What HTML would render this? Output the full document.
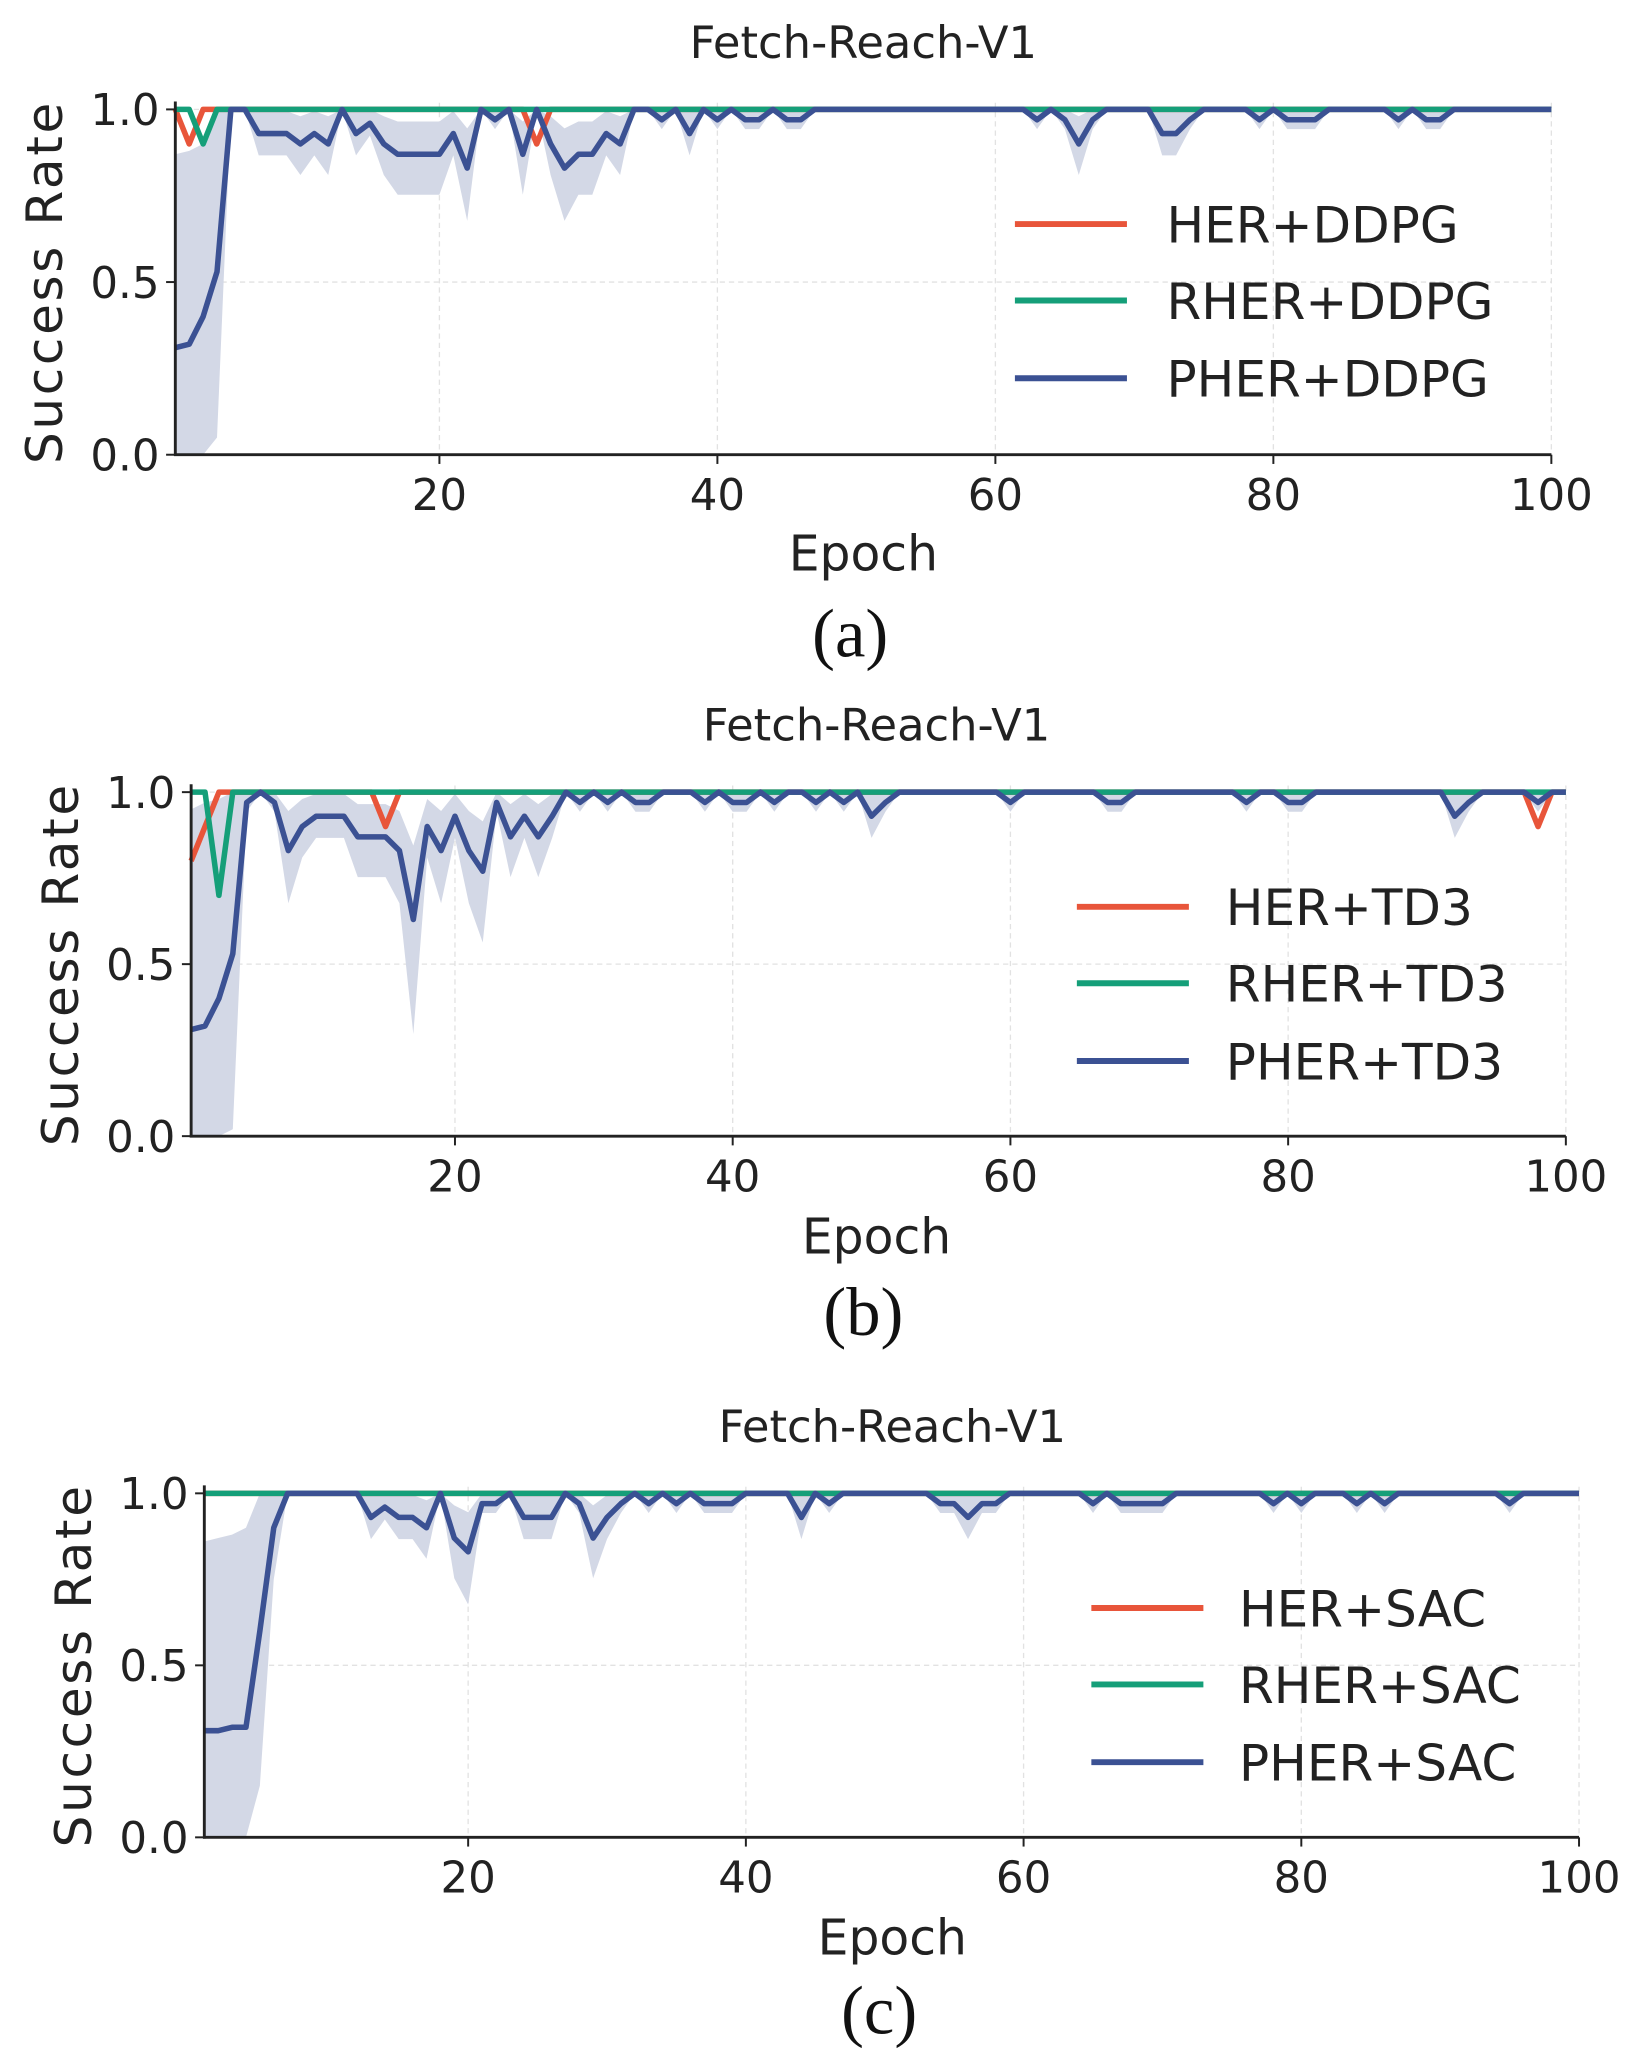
<!DOCTYPE html>
<html><head><meta charset="utf-8"><style>
html,body{margin:0;padding:0;background:#fff;}
svg{display:block;}
</style></head><body>
<svg id="s" width="1641" height="2068" viewBox="0 0 1245 1569" xmlns="http://www.w3.org/2000/svg" font-family="'DejaVu Sans','Liberation Sans',sans-serif"></svg>
<script>
const S=document.getElementById('s');
let out='';
function ones(){return new Array(101).fill(1);}
function set(a,o){for(const k in o)a[+k]=o[k];return a;}
const panels=[
 {x0:133,x1:1177,y1:83,y0:345,title:'Fetch-Reach-V1',tx:655,ty:32,ex:655,ey:420,lab:'(a)',ly:480,
  lg:{x:770,y:[170,228,287],t:885},names:['HER+DDPG','RHER+DDPG','PHER+DDPG'],
  red:set(ones(),{2:0.9,3:1,26:1,27:0.9}),green:set(ones(),{3:0.9}),
  blue:set(ones(),{1:.31,2:.32,3:.4,4:.53,7:.93,8:.93,9:.93,10:.9,11:.93,12:.9,14:.93,15:.96,16:.9,17:.87,18:.87,19:.87,20:.87,21:.93,22:.83,24:.97,26:.87,28:.9,29:.83,30:.87,31:.87,32:.93,33:.9,36:.97,38:.93,40:.97,42:.97,43:.97,45:.97,46:.97,63:.97,65:.97,66:.9,67:.97,72:.93,73:.93,74:.97,79:.97,81:.97,82:.97,83:.97,89:.97,91:.97,92:.97}),
  early:{1:[0,.87],2:[0,.88],3:[0,.9],4:[0.05,1]}},
 {x0:145,x1:1188,y1:601,y0:862,title:'Fetch-Reach-V1',tx:665,ty:550,ex:665,ey:938,lab:'(b)',ly:995,
  lg:{x:817,y:[688,746,805],t:930},names:['HER+TD3','RHER+TD3','PHER+TD3'],
  red:set(ones(),{1:.8,2:.9,15:.9,98:.9}),green:set(ones(),{3:.7}),
  blue:set(ones(),{1:.31,2:.32,3:.4,4:.53,5:.97,7:.97,8:.83,9:.9,10:.93,11:.93,12:.93,13:.87,14:.87,15:.87,16:.83,17:.63,18:.9,19:.83,20:.93,21:.83,22:.77,23:.97,24:.87,25:.93,26:.87,27:.93,29:.97,31:.97,33:.97,34:.97,38:.97,40:.97,41:.97,43:.97,46:.97,48:.97,50:.93,51:.97,60:.97,67:.97,68:.97,77:.97,80:.97,81:.97,92:.93,93:.97,98:.97}),
  early:{1:[0,.95],2:[0,.97],3:[0,.98],4:[0.02,1]}},
 {x0:155,x1:1198,y1:1133,y0:1394,title:'Fetch-Reach-V1',tx:677,ty:1082,ex:677,ey:1470,lab:'(c)',ly:1525,
  lg:{x:828,y:[1220,1278,1337],t:940},names:['HER+SAC','RHER+SAC','PHER+SAC'],
  red:ones(),green:ones(),
  blue:set(ones(),{1:.31,2:.31,3:.32,4:.32,5:.6,6:.9,13:.93,14:.96,15:.93,16:.93,17:.9,19:.87,20:.83,21:.97,22:.97,24:.93,25:.93,26:.93,28:.97,29:.87,30:.93,31:.97,33:.97,35:.97,37:.97,38:.97,39:.97,44:.93,46:.97,54:.97,55:.97,56:.93,57:.97,58:.97,65:.97,67:.97,68:.97,69:.97,70:.97,78:.97,80:.97,84:.97,86:.97,95:.97}),
  early:{1:[0,.86],2:[0,.87],3:[0,.88],4:[0,.9],5:[0.15,1],6:[.75,1]}}
];
for(const p of panels){
 const X=e=>p.x0+(e-1)*(p.x1-p.x0)/99, Y=v=>p.y0+(p.y1-p.y0)*v;
 for(const t of [20,40,60,80,100]) out+=`<line x1="${X(t)}" y1="${p.y1-5}" x2="${X(t)}" y2="${p.y0}" stroke="#e2e2e2" stroke-width="1" stroke-dasharray="4,3"/>`;
 for(const v of [0.5,1]) out+=`<line x1="${p.x0}" y1="${Y(v)}" x2="${p.x1}" y2="${Y(v)}" stroke="#e2e2e2" stroke-width="1" stroke-dasharray="4,3"/>`;
 let up=[],lo=[];
 for(let e=1;e<=100;e++){let v=p.blue[e],u,l;
  if(p.early[e]){[l,u]=p.early[e];}else{const d=(1-v);u=Math.min(1,v+d*0.5+(v<1?0.03:0));l=Math.max(0,v-d*0.9);}
  up.push(X(e)+','+Y(u));lo.push(X(e)+','+Y(l));}
 out+=`<polygon points="${up.join(' ')} ${lo.reverse().join(' ')}" fill="#d3d8e6"/>`;
 const line=(arr,c)=>{let pts=[];for(let e=1;e<=100;e++)pts.push(X(e)+','+Y(arr[e]));out+=`<polyline points="${pts.join(' ')}" fill="none" stroke="${c}" stroke-width="4.2" stroke-linejoin="round"/>`;};
 line(p.red,'#e8553a');line(p.green,'#159f79');line(p.blue,'#3b5193');
 out+=`<line x1="${p.x0}" y1="${p.y1-6}" x2="${p.x0}" y2="${p.y0+1}" stroke="#222" stroke-width="2.2"/>`;
 out+=`<line x1="${p.x0-1}" y1="${p.y0}" x2="${p.x1}" y2="${p.y0}" stroke="#222" stroke-width="2.2"/>`;
 for(const t of [20,40,60,80,100]){out+=`<line x1="${X(t)}" y1="${p.y0}" x2="${X(t)}" y2="${p.y0+7}" stroke="#222" stroke-width="1.5"/>`;
  out+=`<text x="${X(t)}" y="${p.y0+42}" font-size="33" text-anchor="middle" fill="#222">${t}</text>`;}
 for(const v of [0,0.5,1]){out+=`<line x1="${p.x0-7}" y1="${Y(v)}" x2="${p.x0}" y2="${Y(v)}" stroke="#222" stroke-width="1.5"/>`;
  out+=`<text x="${p.x0-12}" y="${Y(v)+12}" font-size="33" text-anchor="end" fill="#222">${v.toFixed(1)}</text>`;}
 out+=`<text x="${p.tx}" y="${p.ty+12}" font-size="34" text-anchor="middle" fill="#222">${p.title}</text>`;
 out+=`<text x="${p.ex}" y="${p.ey+13}" font-size="37" text-anchor="middle" fill="#222">Epoch</text>`;
 const cy=(p.y0+p.y1)/2, lx=p.x0-100;
 out+=`<text transform="translate(${lx+14},${cy}) rotate(-90)" font-size="38" letter-spacing="2" text-anchor="middle" fill="#222">Success Rate</text>`;
 out+=`<text x="${p.tx-10}" y="${p.ly+18}" font-size="52" text-anchor="middle" font-family="'Liberation Serif',serif" fill="#111">${p.lab}</text>`;
 const cols=['#e8553a','#159f79','#3b5193'];
 for(let i=0;i<3;i++){const y=p.lg.y[i];
  out+=`<line x1="${p.lg.x}" y1="${y}" x2="${p.lg.x+85}" y2="${y}" stroke="${cols[i]}" stroke-width="4.5"/>`;
  out+=`<text x="${p.lg.t}" y="${y+14}" font-size="38" fill="#222">${p.names[i]}</text>`;}
}
S.innerHTML=out;
</script>
</body></html>
